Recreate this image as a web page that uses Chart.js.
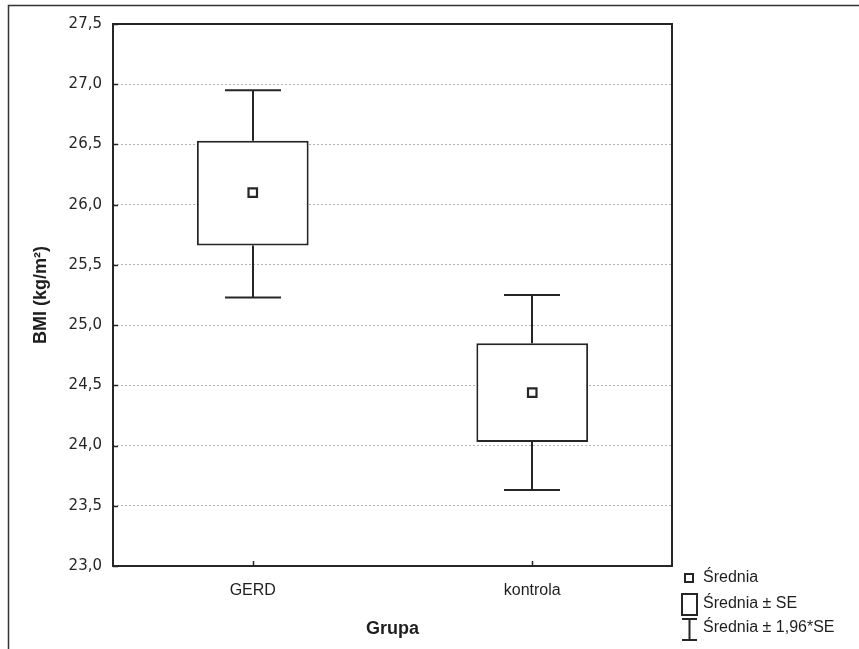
<!DOCTYPE html>
<html>
<head>
<meta charset="utf-8">
<script src="https://cdn.jsdelivr.net/npm/chart.js@4/dist/chart.umd.min.js"></script>
<style>
    html, body { margin: 0; padding: 0; background: #fff; }
    #wrap { width: 859px; height: 649px; position: relative; }
</style>
</head>
<body>
<div id="wrap"><canvas id="grafica" width="859" height="649"></canvas></div>
<script>
"use strict";

// datos
const grupos = ["GERD", "kontrola"];
const srednia = [26.1, 24.44];
const seDol = [25.66, 24.03];
const seGora = [26.53, 24.85];
const ciDol = [25.23, 23.63];
const ciGora = [26.95, 25.25];
const yTicks = [23.0, 23.5, 24.0, 24.5, 25.0, 25.5, 26.0, 26.5, 27.0, 27.5];

const kolorLinii = "#262626";

const cajas = grupos.map((g, i) => [seDol[i], seGora[i]]);

/**
 * Bigotes, marco, marcas y leyenda
 */
const dibujoExtra = {
    id: "dibujoExtra",
    beforeDraw(chart) {
        const ctx = chart.ctx;
        ctx.save();
        ctx.strokeStyle = "#333";
        ctx.lineWidth = 1.5;
        ctx.beginPath();
        ctx.moveTo(8.5, 649);
        ctx.lineTo(8.5, 5.5);
        ctx.lineTo(859, 5.5);
        ctx.stroke();
        ctx.restore();
    },
    beforeDatasetsDraw(chart) {
        const { ctx, scales: { x, y } } = chart;
        ctx.save();
        ctx.strokeStyle = kolorLinii;
        ctx.lineWidth = 2;
        grupos.forEach((g, i) => {
            const px = Math.round(x.getPixelForValue(i));
            const pTop = y.getPixelForValue(ciGora[i]);
            const pBot = y.getPixelForValue(ciDol[i]);
            ctx.beginPath();
            ctx.moveTo(px, pTop);
            ctx.lineTo(px, y.getPixelForValue(seGora[i]));
            ctx.moveTo(px, pBot);
            ctx.lineTo(px, y.getPixelForValue(seDol[i]));
            ctx.moveTo(px - 28, pTop);
            ctx.lineTo(px + 28, pTop);
            ctx.moveTo(px - 28, pBot);
            ctx.lineTo(px + 28, pBot);
            ctx.stroke();
        });
        ctx.restore();
    },
    afterDraw(chart) {
        const { ctx, chartArea: a, scales: { x, y } } = chart;
        ctx.save();
        ctx.strokeStyle = kolorLinii;
        ctx.lineWidth = 2;
        ctx.strokeRect(a.left, a.top, a.right - a.left, a.bottom - a.top);

        // marcas hacia dentro
        ctx.lineWidth = 1.5;
        ctx.beginPath();
        yTicks.forEach((t) => {
            const py = Math.round(y.getPixelForValue(t)) + 0.5;
            ctx.moveTo(a.left, py);
            ctx.lineTo(a.left + 5, py);
        });
        grupos.forEach((g, i) => {
            const px = Math.round(x.getPixelForValue(i)) + 0.5;
            ctx.moveTo(px, a.bottom);
            ctx.lineTo(px, a.bottom - 5);
        });
        ctx.stroke();

        // leyenda
        ctx.lineWidth = 2;
        ctx.fillStyle = "#1e1e1e";
        ctx.font = "16px 'Liberation Sans', Arial, sans-serif";
        ctx.textBaseline = "middle";
        ctx.textAlign = "left";

        ctx.strokeRect(685, 574, 8, 8);
        ctx.fillText("Średnia", 703, 578);

        ctx.strokeRect(682, 594, 15, 21);
        ctx.fillText("Średnia ± SE", 703, 604);

        ctx.beginPath();
        ctx.moveTo(689.5, 619);
        ctx.lineTo(689.5, 640);
        ctx.moveTo(682, 619);
        ctx.lineTo(697, 619);
        ctx.moveTo(682, 640);
        ctx.lineTo(697, 640);
        ctx.stroke();
        ctx.fillText("Średnia ± 1,96*SE", 703, 628);
        ctx.restore();
    },
};

const grafica = document.querySelector("#grafica");

new Chart(grafica, {
    type: "bar",
    data: {
        labels: grupos,
        datasets: [
            {
                type: "line",
                label: "Średnia",
                data: srednia,
                showLine: false,
                pointStyle: "rect",
                pointRadius: 6,
                pointBorderWidth: 2.2,
                pointBackgroundColor: "#fff",
                pointBorderColor: kolorLinii,
                order: 0,
            },
            {
                label: "Średnia ± SE",
                data: cajas,
                backgroundColor: "#fff",
                borderColor: kolorLinii,
                borderWidth: 2,
                borderSkipped: false,
                categoryPercentage: 1,
                barPercentage: 0.4,
                order: 1,
            },
        ],
    },
    options: {
        responsive: false,
        animation: false,
        events: [],
        layout: { padding: { left: 0, top: 24, right: 187, bottom: 0 } },
        plugins: {
            legend: { display: false },
            tooltip: { enabled: false },
        },
        scales: {
            x: {
                offset: true,
                grid: { display: false, drawTicks: false },
                border: { display: false },
                ticks: {
                    color: "#1e1e1e",
                    padding: 15,
                    font: { family: "'Liberation Sans', Arial, sans-serif", size: 16 },
                },
                title: {
                    display: true,
                    text: "Grupa",
                    color: "#1e1e1e",
                    padding: { top: 0, bottom: 9 },
                    font: { family: "'Liberation Sans', Arial, sans-serif", size: 18, weight: "bold" },
                },
                afterFit: (s) => { s.height = 83; },
            },
            y: {
                min: 23,
                max: 27.5,
                afterBuildTicks: (s) => { s.ticks = yTicks.map((v) => ({ value: v })); },
                grid: { color: "#b4b4b4", lineWidth: 1, drawTicks: false },
                border: { display: false, dash: [2, 2] },
                ticks: {
                    color: "#262626",
                    padding: 11,
                    font: { family: "'DejaVu Sans', Verdana, sans-serif", size: 15 },
                    callback: (v) => Number(v).toFixed(1).replace(".", ","),
                },
                title: {
                    display: true,
                    text: "BMI (kg/m²)",
                    color: "#1e1e1e",
                    padding: { top: 30, bottom: 0 },
                    font: { family: "'Liberation Sans', Arial, sans-serif", size: 18, weight: "bold" },
                },
                afterFit: (s) => { s.width = 113; },
            },
        },
    },
    plugins: [dibujoExtra],
});
</script>
</body>
</html>
